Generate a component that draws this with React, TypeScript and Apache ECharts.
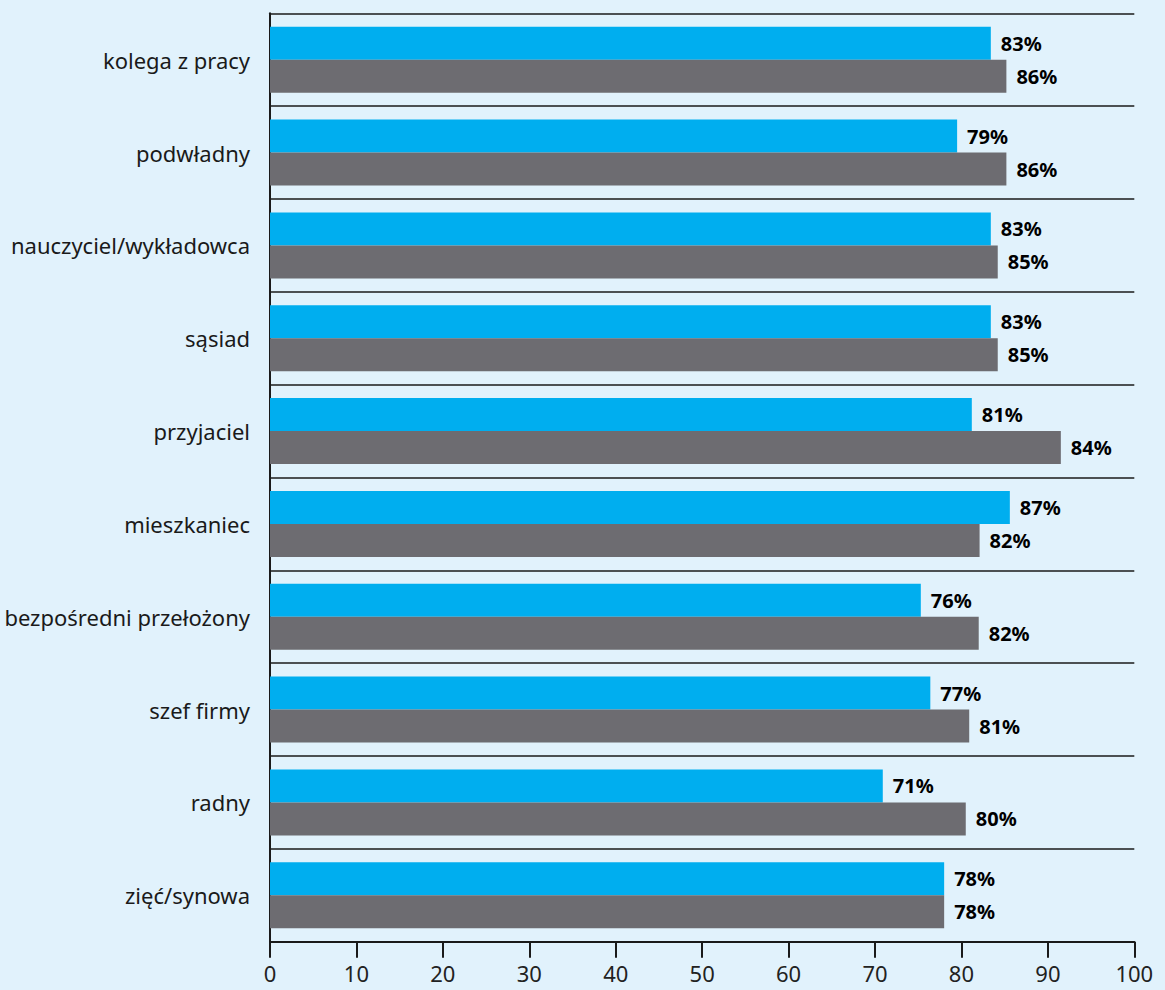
import React, { useEffect, useRef } from "react";
import * as echarts from "echarts";

const categories = [
  "kolega z pracy",
  "podwładny",
  "nauczyciel/wykładowca",
  "sąsiad",
  "przyjaciel",
  "mieszkaniec",
  "bezpośredni przełożony",
  "szef firmy",
  "radny",
  "zięć/synowa",
];

// bar lengths as drawn in the picture
const blueValues = [83.4, 79.5, 83.4, 83.4, 81.2, 85.6, 75.3, 76.4, 70.9, 78.0];
const grayValues = [85.2, 85.2, 84.2, 84.2, 91.5, 82.1, 82.0, 80.9, 80.5, 78.0];

// value labels as printed
const blueLabels = [83, 79, 83, 83, 81, 87, 76, 77, 71, 78];
const grayLabels = [86, 86, 85, 85, 84, 82, 82, 81, 80, 78];

const xTicks = { min: 0, max: 100, interval: 10 };

const BLUE = "#00aeef";
const GRAY = "#6d6c71";
const BG = "#e1f2fc";
const INK = "#1a1a1a";

export default function App() {
  const ref = useRef<HTMLDivElement>(null);

  useEffect(() => {
    if (!ref.current) return;
    const chart = echarts.init(ref.current, undefined, { renderer: "svg" });
    const labelStyle = {
      show: true,
      position: "right" as const,
      distance: 10,
      fontFamily: "Noto Sans",
      fontWeight: "bold" as const,
      fontSize: 20,
      color: "#000",
    };
    chart.setOption({
      animation: false,
      backgroundColor: BG,
      grid: { left: 270, right: 30.7, top: 13.3, bottom: 48.3, containLabel: false },
      xAxis: {
        type: "value",
        min: xTicks.min,
        max: xTicks.max,
        interval: xTicks.interval,
        splitLine: { show: false },
        axisLine: { show: true, lineStyle: { color: INK, width: 2 } },
        axisTick: { show: true, length: 16, lineStyle: { color: INK, width: 2 } },
        axisLabel: {
          fontFamily: "Noto Sans",
          fontSize: 22,
          color: "#222",
          margin: 20,
        },
      },
      yAxis: {
        type: "category",
        data: categories,
        inverse: true,
        axisLine: { show: true, lineStyle: { color: INK, width: 2 } },
        axisTick: { show: false },
        splitLine: { show: true, lineStyle: { color: INK, width: 1.5 } },
        axisLabel: {
          fontFamily: "Noto Sans",
          fontSize: 22,
          color: INK,
          margin: 20,
        },
      },
      series: [
        {
          type: "bar",
          data: blueValues,
          barWidth: 33,
          barGap: "0%",
          itemStyle: { color: BLUE },
          label: { ...labelStyle, formatter: (p: any) => blueLabels[p.dataIndex] + "%" },
        },
        {
          type: "bar",
          data: grayValues,
          barWidth: 33,
          barGap: "0%",
          itemStyle: { color: GRAY },
          label: { ...labelStyle, formatter: (p: any) => grayLabels[p.dataIndex] + "%" },
        },
      ],
    });
    return () => chart.dispose();
  }, []);

  return (
    <div
      ref={ref}
      style={{ position: "absolute", left: 0, top: 0, width: 1165, height: 990 }}
    />
  );
}
